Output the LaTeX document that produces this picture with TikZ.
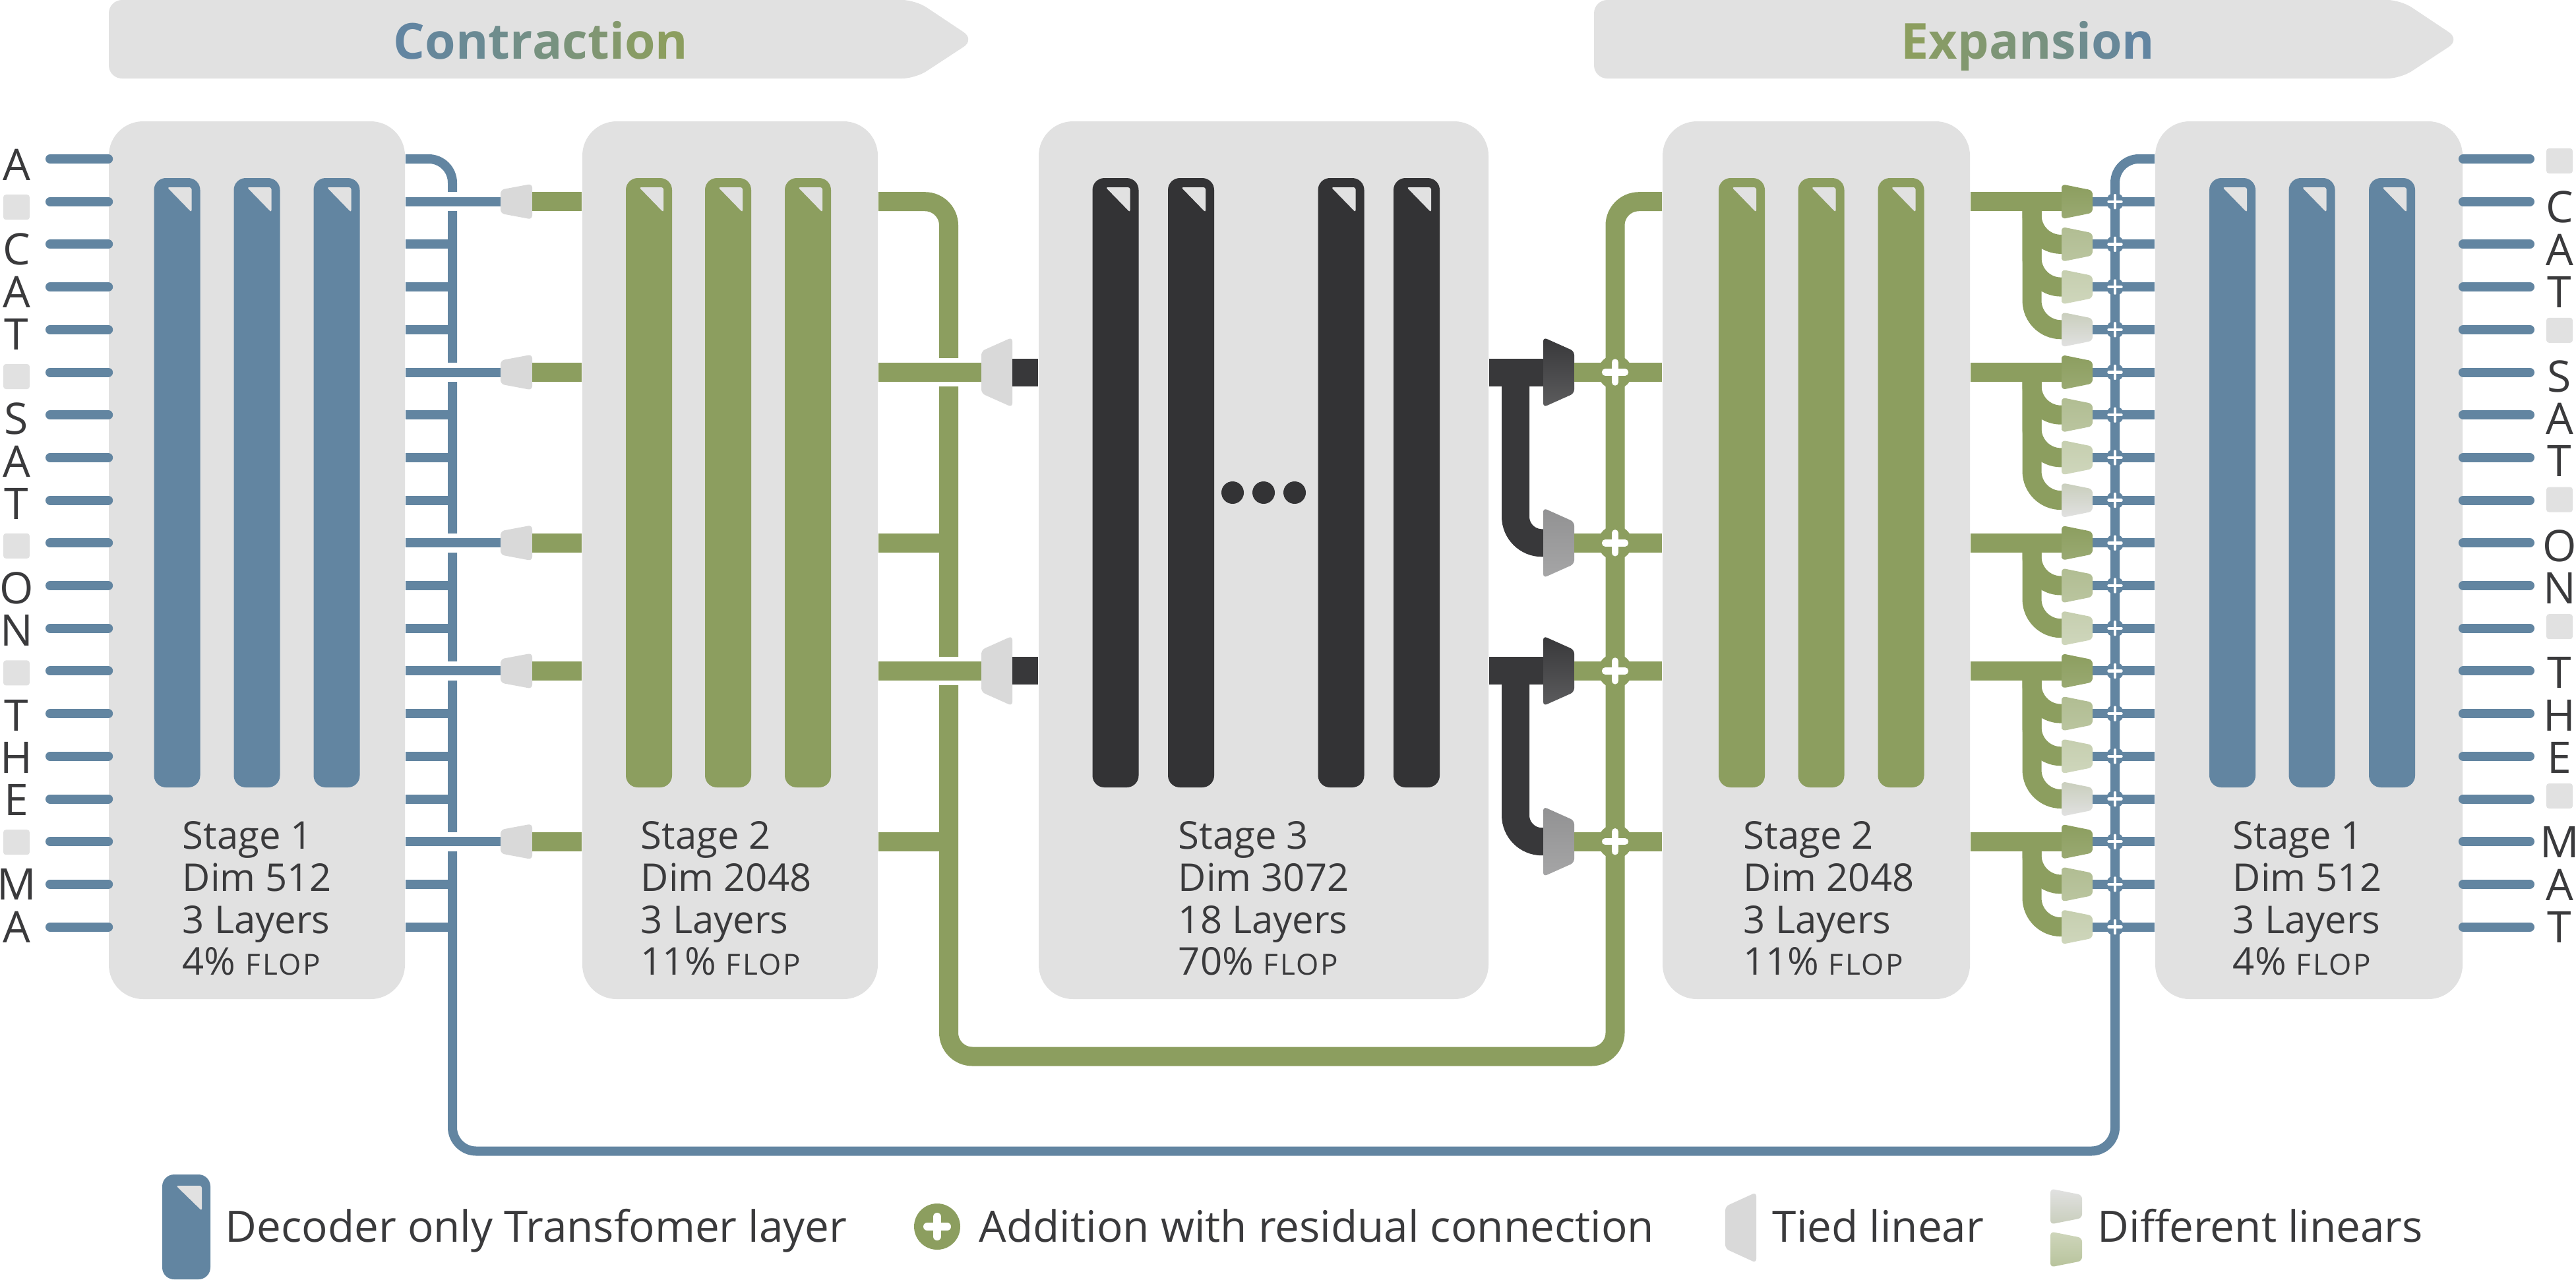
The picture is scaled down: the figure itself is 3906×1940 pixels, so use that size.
\documentclass[tikz,border=0pt]{standalone}
\usepackage{fontspec}
\setmainfont{Open Sans}
\usetikzlibrary{shapes.geometric}
\definecolor{cblue}{HTML}{6285A1}
\definecolor{cgreen}{HTML}{8C9E5F}
\definecolor{cdark}{HTML}{38383A}
\definecolor{cbar}{HTML}{333335}
\definecolor{cbox}{HTML}{E1E1E1}
\definecolor{ctied}{HTML}{D9D9D9}
\definecolor{ctext}{HTML}{3A3A3C}
\tikzset{
	stagebox/.style={rectangle, fill=cbox, rounded corners=13pt, minimum height=332.75pt, inner sep=0pt},
	layerbar/.style={rectangle, rounded corners=4.5pt, minimum width=17.5pt, minimum height=231pt, inner sep=0pt},
	dogear/.style={fill=cbox, rounded corners=0.8pt},
	banner/.style={fill=cbox, rounded corners=5pt},
	bluewire/.style={draw=cblue, line width=3.5pt},
	greenwire/.style={draw=cgreen, line width=7.25pt},
	darkwire/.style={draw=cdark, line width=10.5pt},
	letter/.style={text=ctext, inner sep=0pt, font=\fontsize{16.5}{20}\selectfont},
	padbox/.style={rectangle, fill=cbox, rounded corners=1pt, minimum width=10pt, minimum height=9.5pt, inner sep=0pt},
	stagetext/.style={anchor=north west, align=left, text=ctext, inner sep=0pt, font=\fontsize{14.5}{15.9}\selectfont},
	legendtext/.style={anchor=base west, text=ctext, inner sep=0pt, font=\fontsize{16.4}{20}\selectfont},
	titletext/.style={anchor=base, inner sep=0pt, font=\fontsize{18.8}{24}\selectfont\bfseries},
	joinblue/.style={circle, fill=cblue, minimum size=6.75pt, inner sep=0pt},
	joingreen/.style={circle, fill=cgreen, minimum size=13pt, inner sep=0pt},
	plusthin/.style={draw=white, line width=1.1pt, line cap=round},
	plusthick/.style={draw=white, line width=2.6pt, line cap=round},
	lin0/.style={top color=cgreen, bottom color=cgreen!88!white},
	lin1/.style={top color=cgreen!68!white, bottom color=cgreen!60!white},
	lin2/.style={top color=cgreen!50!white, bottom color=cgreen!42!white},
	lin3/.style={top color=cgreen!28!cbox, bottom color=cbox},
}
\newcommand{\linblock}[7]{% name, x left, x right, y, half left, half right, look
	\path[rounded corners=1.5pt, #7] (#2,#4-#5) -- (#3,#4-#6) -- (#3,#4+#6) -- (#2,#4+#5) -- cycle;
	\coordinate (#1w) at (#2,#4);
	\coordinate (#1e) at (#3,#4);
}
\newcommand{\flop}{{\fontsize{11}{15.9}\selectfont\addfontfeature{LetterSpace=6}FLOP}}
\begin{document}
\begin{tikzpicture}[x=0.25pt, y=-0.25pt]
	\useasboundingbox (0,0) rectangle (3906,1940);

	% headers
	\fill[banner] (165,0) -- (1388,0) -- (1478,60) -- (1388,119) -- (165,119) -- cycle;
	\fill[banner] (2417,0) -- (3640,0) -- (3730,60) -- (3640,119) -- (2417,119) -- cycle;
	\node[titletext] (contr) at (820,89)
		{\textcolor{cblue}{C}\textcolor{cblue!90!cgreen}{o}\textcolor{cblue!80!cgreen}{n}\textcolor{cblue!70!cgreen}{t}\textcolor{cblue!60!cgreen}{r}\textcolor{cblue!50!cgreen}{a}\textcolor{cblue!40!cgreen}{c}\textcolor{cblue!30!cgreen}{t}\textcolor{cblue!20!cgreen}{i}\textcolor{cblue!10!cgreen}{o}\textcolor{cgreen}{n}};
	\node[titletext] (expan) at (3075,89)
		{\textcolor{cgreen}{E}\textcolor{cgreen!88!cblue}{x}\textcolor{cgreen!76!cblue}{p}\textcolor{cgreen!64!cblue}{a}\textcolor{cgreen!52!cblue}{n}\textcolor{cgreen!40!cblue}{s}\textcolor{cgreen!28!cblue}{i}\textcolor{cgreen!14!cblue}{o}\textcolor{cblue}{n}};

	% stage boxes
	\node[stagebox, minimum width=112.25pt] (st1) at (389.5,849.5) {};
	\node[stagebox, minimum width=112pt] (st2) at (1107,849.5) {};
	\node[stagebox, minimum width=170.5pt] (st3) at (1916,849.5) {};
	\node[stagebox, minimum width=116.5pt] (st2r) at (2754,849.5) {};
	\node[stagebox, minimum width=116.5pt] (st1r) at (3501,849.5) {};

	% rows and buses
	\foreach \i in {0,...,18} {
		\coordinate (r\i) at (0,{241+64.7*\i});
	}
	\coordinate (bot1) at (0,1602);
	\coordinate (bot2) at (0,1745.5);
	\coordinate (busL) at (686,0);
	\coordinate (busR) at (3207,0);
	\coordinate (busGl) at (1438.5,0);
	\coordinate (busGr) at (2449,0);
	\coordinate (fork) at (3081,0);
	\coordinate (darkx) at (2298,0);

	% layers
	\foreach \nm/\x/\col in {a1/268.5/cblue, a2/389.5/cblue, a3/510.5/cblue, b1/984/cgreen, b2/1104/cgreen, b3/1225/cgreen,
		c1/1691.5/cbar, c2/1806/cbar, c3/2033.5/cbar, c4/2148/cbar, d1/2641/cgreen, d2/2761.5/cgreen, d3/2882.5/cgreen,
		e1/3385/cblue, e2/3505.5/cblue, e3/3627/cblue} {
		\node[layerbar, fill=\col] (\nm) at (\x,732) {};
		\fill[dogear] (\x-15,284) -- (\x+22,284) -- (\x+22,322) -- cycle;
	}
	\foreach \k/\x in {1/1869, 2/1916, 3/1963} {
		\node[circle, fill=cbar, minimum size=8.5pt, inner sep=0pt] (dot\k) at (\x,747) {};
	}

	% long skip connections
	\draw[bluewire, rounded corners=9pt] (st1.east |- r0) -- (busL |- r0) -- (busL |- bot2) -- (busR |- bot2) -- (busR |- r0) -- (st1r.west |- r0);
	\draw[greenwire, rounded corners=9pt] (st2.east |- r1) -- (busGl |- r1) -- (busGl |- bot1) -- (busGr |- bot1) -- (busGr |- r1) -- (st2r.west |- r1);

	% inputs and outputs
	\foreach \i in {0,...,18} {
		\draw[bluewire, line cap=round] (76,0 |- r\i) -- (st1.west |- r\i);
		\draw[bluewire, line cap=round] (st1r.east |- r\i) -- (3836,0 |- r\i);
	}
	\foreach \i in {2,3,4,6,7,8,10,11,13,14,15,17,18} {
		\draw[bluewire] (st1.east |- r\i) -- (busL |- r\i);
	}
	\foreach \i/\txt in {0/A,2/C,3/A,4/T,6/S,7/A,8/T,10/O,11/N,13/T,14/H,15/E,17/M,18/A} {
		\node[letter] (tl\i) at (25,{250+64.2*\i}) {\txt};
	}
	\foreach \i/\txt in {1/C,2/A,3/T,5/S,6/A,7/T,9/O,10/N,12/T,13/H,14/E,16/M,17/A,18/T} {
		\node[letter] (tr\i) at (3881,{250+64.2*\i}) {\txt};
	}
	\foreach \i in {1,5,9,12,16} {
		\node[padbox] (pl\i) at (25,{250+64.2*\i}) {};
	}
	\foreach \i in {0,4,8,11,15} {
		\node[padbox] (pr\i) at (3881,{244+64.2*\i}) {};
	}

	% contraction
	\foreach \i in {1,5,9,12,16} {
		\linblock{t\i}{759}{807}{241+64.7*\i}{18}{27}{fill=ctied}
		\draw[bluewire, preaction={draw=white, line width=7.25pt}] (st1.east |- r\i) -- (t\i w);
		\draw[greenwire] (t\i e) -- (st2.west |- r\i);
	}
	\draw[greenwire] (st2.east |- r9) -- (busGl |- r9);
	\draw[greenwire] (st2.east |- r16) -- (busGl |- r16);
	\foreach \i in {5,12} {
		\linblock{u\i}{1488}{1535}{241+64.7*\i}{32}{53}{fill=ctied}
		\draw[greenwire, preaction={draw=white, line width=10.75pt}] (st2.east |- r\i) -- (u\i w);
		\draw[darkwire] (u\i e) -- (st3.west |- r\i);
	}

	% expansion, stage 3 to stage 2
	\foreach \i/\j in {5/9, 12/16} {
		\draw[darkwire, rounded corners=10pt] (darkx |- r\i) -- (darkx |- r\j) -- (2340,0 |- r\j);
		\draw[darkwire] (st3.east |- r\i) -- (2340,0 |- r\i);
		\linblock{v\i}{2340}{2387}{241+64.7*\i}{53}{32}{top color=cdark, bottom color=cdark!82!white}
		\linblock{v\j}{2340}{2387}{241+64.7*\j}{53}{32}{top color=cdark!55!white, bottom color=cdark!45!white}
	}
	\foreach \i in {5,9,12,16} {
		\draw[greenwire] (v\i e) -- (st2r.west |- r\i);
		\node[joingreen] (jg\i) at (busGr |- r\i) {};
		\draw[plusthick] (jg\i.center) ++(-15,0) -- ++(30,0) (jg\i.center) ++(0,-15) -- ++(0,30);
	}

	% expansion, stage 2 to stage 1
	\foreach \i/\h/\k in {1/1/0,2/1/1,3/1/2,4/1/3,5/5/0,6/5/1,7/5/2,8/5/3,9/9/0,10/9/1,11/9/2,12/12/0,13/12/1,14/12/2,15/12/3,16/16/0,17/16/1,18/16/2} {
		\ifnum\k>0
			\draw[greenwire, rounded corners=11pt] (fork |- r\h) -- (fork |- r\i) -- (3126,0 |- r\i);
		\fi
		\linblock{w\i}{3126}{3173}{241+64.7*\i}{26.5}{17}{lin\k}
		\draw[bluewire] (w\i e) -- (st1r.west |- r\i);
		\node[joinblue] (jb\i) at (busR |- r\i) {};
		\draw[plusthin] (jb\i.center) ++(-9.5,0) -- ++(19,0) (jb\i.center) ++(0,-9.5) -- ++(0,19);
	}
	\foreach \i in {1,5,9,12,16} {
		\draw[greenwire] (st2r.east |- r\i) -- (w\i w);
	}

	% stage texts
	\node[stagetext] (s1) at (276,1245) {Stage 1\\Dim 512\\3 Layers\\4\% \flop};
	\node[stagetext] (s2) at (971,1245) {Stage 2\\Dim 2048\\3 Layers\\11\% \flop};
	\node[stagetext] (s3) at (1786,1245) {Stage 3\\Dim 3072\\18 Layers\\70\% \flop};
	\node[stagetext] (s4) at (2643,1245) {Stage 2\\Dim 2048\\3 Layers\\11\% \flop};
	\node[stagetext] (s5) at (3385,1245) {Stage 1\\Dim 512\\3 Layers\\4\% \flop};

	% legend
	\node[rectangle, fill=cblue, rounded corners=4.5pt, minimum width=18.25pt, minimum height=39.75pt, inner sep=0pt] (kbar) at (282.5,1860.5) {};
	\fill[dogear] (267,1798) -- (306,1798) -- (306,1836) -- cycle;
	\node[legendtext] (kt1) at (341,1883) {Decoder only Transfomer layer};
	\node[circle, fill=cgreen, minimum size=17.5pt, inner sep=0pt] (kplus) at (1421,1860) {};
	\draw[plusthick, line width=3pt] (kplus.center) ++(-15,0) -- ++(30,0) (kplus.center) ++(0,-15) -- ++(0,30);
	\node[legendtext] (kt2) at (1484,1883) {Addition with residual connection};
	\linblock{k1}{2616}{2663}{1861.5}{32}{53.5}{fill=ctied}
	\node[legendtext] (kt3) at (2687,1883) {Tied linear};
	\linblock{k2}{3109}{3157}{1829.5}{27}{17.5}{top color=cbox, bottom color=cgreen!28!cbox}
	\linblock{k3}{3109}{3157}{1894.5}{27}{17.5}{top color=cgreen!42!white, bottom color=cgreen!62!white}
	\node[legendtext] (kt4) at (3180,1883) {Different linears};
\end{tikzpicture}
\end{document}
